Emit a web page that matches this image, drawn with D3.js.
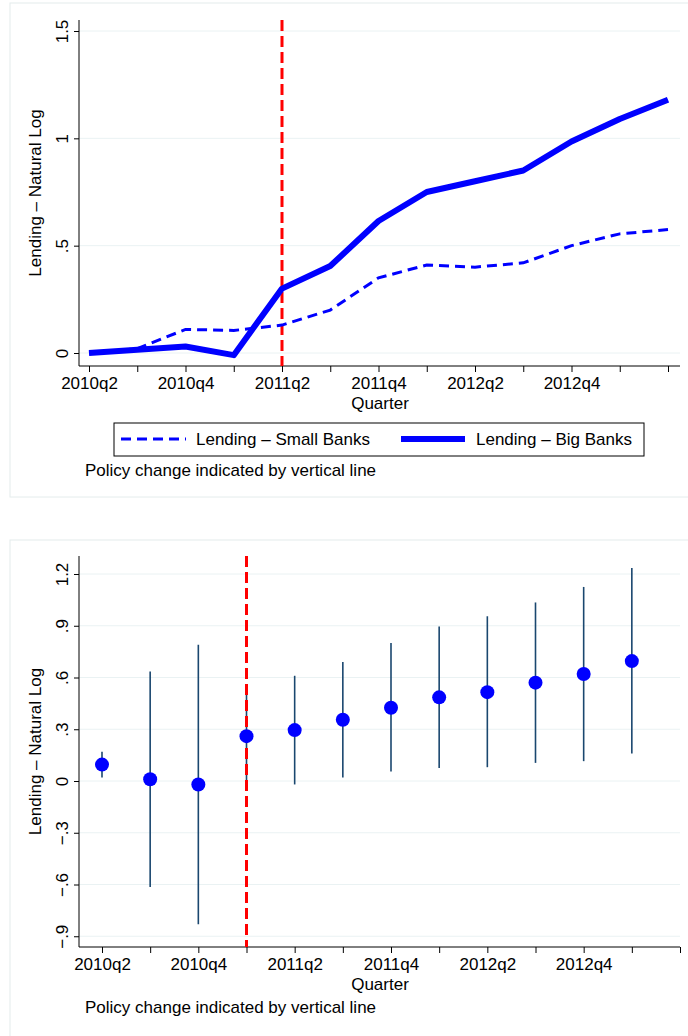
<!DOCTYPE html>
<html><head><meta charset="utf-8">
<script src="https://cdn.jsdelivr.net/npm/d3@7"></script>
<style>body{margin:0;background:#fff}svg{font-family:"Liberation Sans",Arial,sans-serif}svg text{font-size:17px}</style>
</head><body><svg id="c" width="688" height="1036"></svg>
<script>
const quarters=["2010q2","2010q3","2010q4","2011q1","2011q2","2011q3","2011q4","2012q1","2012q2","2012q3","2012q4","2013q1","2013q2"];
const tickLabels=["2010q2","2010q4","2011q2","2011q4","2012q2","2012q4"];
const smallBanks=[0,0.02,0.11,0.105,0.13,0.20,0.35,0.41,0.40,0.42,0.50,0.555,0.575];
const bigBanks=[0,0.015,0.03,-0.01,0.30,0.405,0.615,0.75,0.80,0.85,0.985,1.09,1.18];
const estQuarters=quarters.slice(0,12);
const estimate=[0.095,0.01,-0.02,0.26,0.295,0.355,0.425,0.485,0.515,0.57,0.62,0.695];
const ciLow=[0.02,-0.615,-0.83,-0.04,-0.02,0.02,0.055,0.075,0.08,0.105,0.115,0.16];
const ciHigh=[0.17,0.635,0.79,0.56,0.61,0.69,0.80,0.895,0.955,1.035,1.125,1.235];
const topTicks=[0,0.5,1,1.5], topTickText=["0",".5","1","1.5"];
const botTicks=[-0.9,-0.6,-0.3,0,0.3,0.6,0.9,1.2], botTickText=["\u2212.9","\u2212.6","\u2212.3","0",".3",".6",".9","1.2"];

const svg=d3.select("#c");
const fmtMap=(vals,txt)=>d=>txt[vals.indexOf(d)];

function panel(g,opt){
  g.append("rect").attr("x",opt.bx).attr("y",opt.by).attr("width",opt.bw).attr("height",opt.bh).attr("fill","none").attr("stroke","#e4ecec");
  const x=d3.scalePoint().domain(quarters).range([opt.x0,opt.x1]);
  const y=d3.scaleLinear().domain(opt.ydom).range([opt.y0,opt.y1]);
  g.selectAll(".gl").data(opt.ticks).join("line").attr("x1",79).attr("x2",680).attr("y1",d=>y(d)).attr("y2",d=>y(d)).attr("stroke","#eaf2f3");
  const ya=g.append("g").attr("transform","translate(79,0)").call(d3.axisLeft(y).tickValues(opt.ticks).tickFormat(fmtMap(opt.ticks,opt.tickText)).tickSize(5));
  ya.select(".domain").attr("d",`M0,${opt.top}V${opt.bottom}`);
  ya.selectAll(".tick text").attr("text-anchor","middle").attr("x",0).attr("dy",0)
    .attr("transform","translate(-11,0) rotate(-90)");
  const xa=g.append("g").attr("transform",`translate(0,${opt.bottom})`).call(d3.axisBottom(x).tickFormat(d=>tickLabels.includes(d)?d:"").tickSize(6));
  xa.select(".domain").attr("d","M79,0H680");
  xa.selectAll("text").attr("dy","0.8em");
  g.append("text").attr("x",380).attr("y",opt.bottom+43).attr("text-anchor","middle").text("Quarter");
  g.append("text").attr("transform",`translate(41,${(opt.top+opt.bottom)/2}) rotate(-90)`).attr("text-anchor","middle").text("Lending \u2013 Natural Log");
  return {x,y};
}

const g1=svg.append("g");
const p1=panel(g1,{bx:10,by:3,bw:690,bh:494,x0:89,x1:668,ydom:[0,1.5],y0:353,y1:31,ticks:topTicks,tickText:topTickText,top:20,bottom:366});
const line1=d3.line().x((d,i)=>p1.x(quarters[i])).y(d=>p1.y(d));
g1.append("line").attr("x1",p1.x("2011q2")).attr("x2",p1.x("2011q2")).attr("y1",20).attr("y2",366).attr("stroke","#ff0000").attr("stroke-width",3).attr("stroke-dasharray","11,5");
g1.append("path").attr("d",line1(smallBanks)).attr("fill","none").attr("stroke","#0000ff").attr("stroke-width",3).attr("stroke-dasharray","10,6");
g1.append("path").attr("d",line1(bigBanks)).attr("fill","none").attr("stroke","#0000ff").attr("stroke-width",6).attr("stroke-linejoin","round");
g1.append("rect").attr("x",114).attr("y",423).attr("width",530).attr("height",33).attr("fill","none").attr("stroke","#000");
g1.append("line").attr("x1",121).attr("x2",186).attr("y1",439).attr("y2",439).attr("stroke","#0000ff").attr("stroke-width",3).attr("stroke-dasharray","10,6");
g1.append("text").attr("x",196).attr("y",445).text("Lending \u2013 Small Banks");
g1.append("line").attr("x1",401).attr("x2",465).attr("y1",439).attr("y2",439).attr("stroke","#0000ff").attr("stroke-width",6);
g1.append("text").attr("x",476).attr("y",445).text("Lending \u2013 Big Banks");
g1.append("text").attr("x",85).attr("y",476).text("Policy change indicated by vertical line");

const g2=svg.append("g");
const p2=panel(g2,{bx:10,by:540,bw:690,bh:500,x0:102,x1:680,ydom:[0,1.2],y0:781,y1:574,ticks:botTicks,tickText:botTickText,top:556,bottom:947});
const data2=estQuarters.map((q,i)=>({q,e:estimate[i],lo:ciLow[i],hi:ciHigh[i]}));
g2.selectAll(".ci").data(data2).join("line").attr("x1",d=>p2.x(d.q)).attr("x2",d=>p2.x(d.q)).attr("y1",d=>p2.y(d.lo)).attr("y2",d=>p2.y(d.hi)).attr("stroke","#1a476f").attr("stroke-width",1.6);
g2.append("line").attr("x1",p2.x("2011q1")).attr("x2",p2.x("2011q1")).attr("y1",556).attr("y2",947).attr("stroke","#ff0000").attr("stroke-width",3).attr("stroke-dasharray","11,5");
g2.selectAll(".pt").data(data2).join("circle").attr("cx",d=>p2.x(d.q)).attr("cy",d=>p2.y(d.e)).attr("r",7).attr("fill","#0000ff");
g2.append("text").attr("x",85).attr("y",1013).text("Policy change indicated by vertical line");
</script></body></html>
